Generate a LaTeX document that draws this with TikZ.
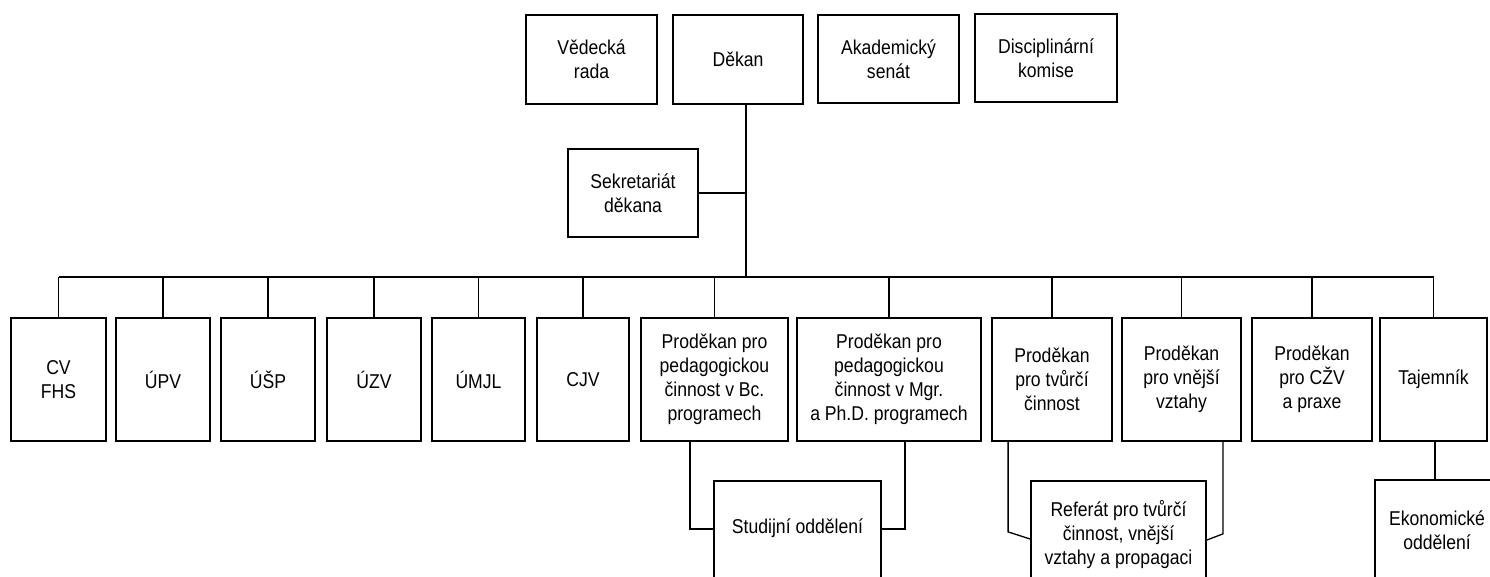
\documentclass[tikz,border=0pt]{standalone}
\usepackage{fontspec}
\setmainfont{Liberation Sans}[FakeStretch=0.88]
\begin{document}
\begin{tikzpicture}[x=1pt,y=-1pt,
  box/.style={draw, line width=1.8pt, inner sep=0pt, align=center, font=\fontsize{20}{24}\selectfont},
  txt/.style={inner sep=0pt, align=center, font=\fontsize{20}{24}\selectfont},
  conn/.style={line width=1.3pt}]
\useasboundingbox (0,0) rectangle (1490,577);
\clip (0,0) rectangle (1490,577);
% top row
\node[box, minimum width=131pt, minimum height=89pt] (vr) at (591.5,59.5) {Vědecká\\rada};
\node[box, minimum width=130pt, minimum height=89pt] (dek) at (738,59.5) {Děkan};
\node[box, minimum width=141pt, minimum height=88pt] (as) at (888.5,59) {Akademický\\senát};
\node[box, minimum width=142pt, minimum height=88pt] (dk) at (1046,58) {Disciplinární\\komise};
\node[box, minimum width=130pt, minimum height=88pt] (sek) at (633,193) {Sekretariát\\děkana};
\coordinate (bus) at (746,277);
% second row
\node[box, minimum width=95pt, minimum height=123pt] (cv) at (58.5,379.5) {CV\\FHS};
\node[box, minimum width=94pt, minimum height=123pt] (upv) at (163,379.5) {ÚPV};
\node[box, minimum width=94pt, minimum height=123pt] (usp) at (268,379.5) {ÚŠP};
\node[box, minimum width=94pt, minimum height=123pt] (uzv) at (374,379.5) {ÚZV};
\node[box, minimum width=93pt, minimum height=123pt] (umjl) at (478.5,379.5) {ÚMJL};
\node[box, minimum width=92pt, minimum height=123pt] (cjv) at (583,379.5) {CJV};
\node[box, minimum width=147pt, minimum height=123pt] (pbc) at (714.5,379.5) {Proděkan pro\\pedagogickou\\činnost v Bc.\\programech};
\node[box, minimum width=184pt, minimum height=123pt] (pmgr) at (889,379.5) {Proděkan pro\\pedagogickou\\činnost v Mgr.\\a Ph.D. programech};
\node[box, minimum width=120pt, minimum height=123pt] (ptc) at (1052,379.5) {Proděkan\\pro tvůrčí\\činnost};
\node[box, minimum width=119pt, minimum height=123pt] (pvv) at (1181.5,379.5) {Proděkan\\pro vnější\\vztahy};
\node[box, minimum width=120pt, minimum height=123pt] (pczv) at (1312,379.5) {Proděkan\\pro CŽV\\a praxe};
\node[box, minimum width=107pt, minimum height=123pt] (taj) at (1433.5,379.5) {Tajemník};
% third row (cut off by the page edge)
\node[box, minimum width=167pt, minimum height=150pt, anchor=north] (stud) at (797.5,480) {};
\node[txt] (studt) at (797.5,528) {Studijní oddělení};
\node[box, minimum width=175pt, minimum height=150pt, anchor=north] (ref) at (1118.5,480) {};
\node[txt] (reft) at (1118.5,535) {Referát pro tvůrčí\\činnost, vnější\\vztahy a propagaci};
\node[box, minimum width=150pt, minimum height=150pt, anchor=north west] (eko) at (1374,479) {};
\node[txt] (ekot) at (1437,530) {Ekonomické\\oddělení};
% connectors
\draw[conn] (dek.south -| bus) -- (bus);
\draw[conn] (sek.east) -- (sek.east -| bus);
\draw[conn] (cv.north |- bus) -- (taj.north |- bus);
\foreach \n in {cv,upv,usp,uzv,umjl,cjv,pbc,pmgr,ptc,pvv,pczv,taj}
  \draw[conn] (\n.north) -- (\n.north |- bus);
\draw[conn] ([xshift=50pt]pbc.south west) |- ([yshift=-49pt]stud.north west);
\draw[conn] ([xshift=-77pt]pmgr.south east) |- ([yshift=-49pt]stud.north east);
\draw[conn] ([xshift=17pt]ptc.south west) -- ++(0,-90pt) -- ([yshift=-59pt]ref.north west);
\draw[conn] ([xshift=-19pt]pvv.south east) -- ++(0,-92pt) -- ([yshift=-60pt]ref.north east);
\draw[conn] ([xshift=56pt]taj.south west) -- ([xshift=56pt]taj.south west |- eko.north);
\end{tikzpicture}
\end{document}
